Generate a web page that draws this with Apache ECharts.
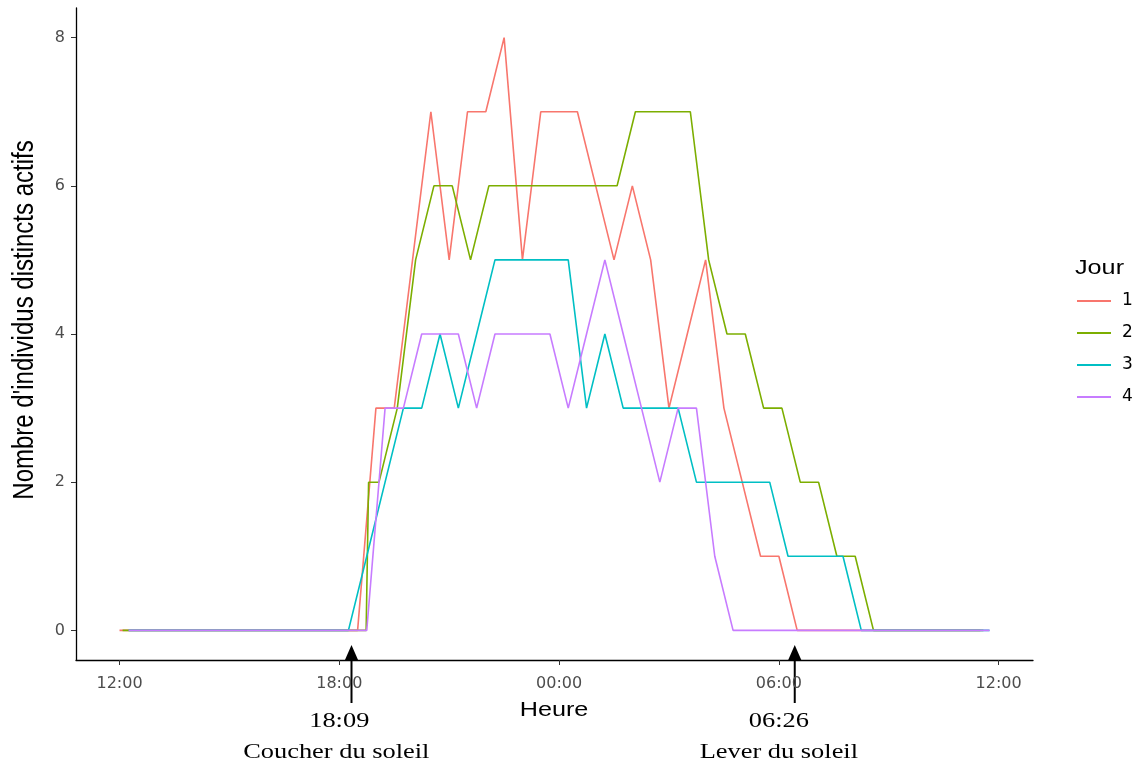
<!DOCTYPE html>
<html><head><meta charset="utf-8">
<script src="https://cdn.jsdelivr.net/npm/echarts@6/dist/echarts.min.js"></script>
<style>html,body{margin:0;padding:0;background:#fff}#c{width:1142px;height:771px}</style>
</head><body><div id="c"></div>
<script>
// ---- data ----
const xTickLabels = ['12:00','18:00','00:00','06:00','12:00'];
const xTickMinutes = [0, 360, 720, 1080, 1440];
const yTickValues = [0, 2, 4, 6, 8];
const seriesNames = ['1','2','3','4'];
const seriesColors = ['#F8766D','#7CAE00','#00BFC4','#C77CFF'];

const day1Times = ['12:00','12:30','13:00','13:30','14:00','14:30','15:00','15:30','16:00','16:30','17:00','17:30','18:00','18:30','19:00','19:30','20:00','20:30','21:00','21:30','22:00','22:30','23:00','23:30','00:00','00:30','01:00','01:30','02:00','02:30','03:00','03:30','04:00','04:30','05:00','05:30','06:00','06:30','07:00','07:30','08:00','08:30','09:00','09:30','10:00','10:30','11:00','11:30'];
const day1Values = [0,0,0,0,0,0,0,0,0,0,0,0,0,0, 3,3,5,7,5,7,7,8,5,7,7,7,6,5,6,5,3,4,5,3,2,1,1,0, 0,0,0,0,0,0,0,0,0,0];

const day2Times = ['12:05','12:35','13:05','13:35','14:05','14:35','15:05','15:35','16:05','16:35','17:05','17:35','18:05','18:35','18:44','18:48','19:05','19:35','20:05','20:35','21:05','21:35','22:05','22:35','23:05','23:35','00:05','00:35','01:05','01:35','02:05','02:35','03:05','03:35','04:05','04:35','05:05','05:35','06:05','06:35','07:05','07:35','08:05','08:35','09:05','09:35','10:05','10:35','11:05','11:35'];
const day2Values = [0,0,0,0,0,0,0,0,0,0,0,0,0,0, 0,2, 2,3,5,6,6,5,6,6,6,6,6,6,6,6,7,7,7,7,5,4,4,3,3,2,2,1,1,0, 0,0,0,0,0,0];

const day3Times = ['12:15','12:45','13:15','13:45','14:15','14:45','15:15','15:45','16:15','16:45','17:15','17:45','18:15','18:45','19:15','19:45','20:15','20:45','21:15','21:45','22:15','22:45','23:15','23:45','00:15','00:45','01:15','01:45','02:15','02:45','03:15','03:45','04:15','04:45','05:15','05:45','06:15','06:45','07:15','07:45','08:15','08:45','09:15','09:45','10:15','10:45','11:15','11:45'];
const day3Values = [0,0,0,0,0,0,0,0,0,0,0,0,0, 1,2,3,3,4,3,4,5,5,5,5,5,3,4,3,3,3,3,2,2,2,2,2,1,1,1,1, 0,0,0,0,0,0,0,0];

const day4Times = day3Times;
const day4Values = [0,0,0,0,0,0,0,0,0,0,0,0,0,0, 3,3,4,4,4,3,4,4,4,4,3,4,5,4,3,2,3,3,1, 0,0,0,0,0,0,0,0,0,0,0,0,0,0,0];

const annotTimeLabels = ['18:09','06:26'];
const annotTexts = ['Coucher du soleil','Lever du soleil'];
const annotTextAt = ['18:00','06:00'];
const annotArrowAt = ['18:20','06:26'];

// ---- helpers ----
function toMin(s){ const p = s.split(':').map(Number); let t = p[0]*60 + p[1] - 720; if (t < 0) t += 1440; return t; }
const allTimes = [day1Times, day2Times, day3Times, day4Times];
const allValues = [day1Values, day2Values, day3Values, day4Values];

const chart = echarts.init(document.getElementById('c'), null, {renderer:'canvas'});
const series = allValues.map((vals, i) => ({
  name: seriesNames[i], type: 'line', showSymbol: false, symbol: 'none', silent: true,
  data: vals.map((v, j) => [toMin(allTimes[i][j]), v]),
  lineStyle: {width: 1.6, color: seriesColors[i]}, itemStyle: {color: seriesColors[i]},
  z: 2 + i
}));

const SX = 1.2;
chart.setOption({
  animation: false,
  backgroundColor: '#fff',
  grid: {left: 76, right: 109, top: 8, bottom: 111},
  xAxis: {
    type: 'value', min: -71.25, max: 1496.25,
    axisLine: {onZero: false, lineStyle: {color: '#000', width: 1.3}},
    axisTick: {customValues: xTickMinutes, length: 5, lineStyle: {color: '#333', width: 1}},
    axisLabel: {customValues: xTickMinutes, color: '#4D4D4D', fontSize: 16, fontFamily: 'DejaVu Sans', margin: 16,
      formatter: v => xTickLabels[xTickMinutes.indexOf(v)]},
    splitLine: {show: false}
  },
  yAxis: {
    type: 'value', min: -0.4, max: 8.4,
    axisLine: {show: true, onZero: false, lineStyle: {color: '#000', width: 1.3}},
    axisTick: {show: true, customValues: yTickValues, length: 5, lineStyle: {color: '#333', width: 1}},
    axisLabel: {customValues: yTickValues, color: '#4D4D4D', fontSize: 16, fontFamily: 'DejaVu Sans', margin: 11},
    splitLine: {show: false}
  },
  legend: {
    orient: 'vertical', left: 1077, top: 292, padding: 0, itemWidth: 34, itemHeight: 2, itemGap: 14,
    icon: 'rect', data: seriesNames,
    textStyle: {fontSize: 17, lineHeight: 18, fontFamily: 'DejaVu Sans', color: '#000', padding: [0,0,0,6]}
  },
  series: series
});

const g = [];
g.push({type:'text', x: 25, y: 320, rotation: Math.PI/2, scaleY: SX, style:{text:"Nombre d'individus distincts actifs", font:'24px "Liberation Sans"', fill:'#000', textAlign:'center', textVerticalAlign:'middle'}});
g.push({type:'text', x: 554, y: 710, scaleX: SX, style:{text:'Heure', font:'21px "Liberation Sans"', fill:'#000', textAlign:'center', textVerticalAlign:'middle'}});
g.push({type:'text', x: 1075, y: 268, scaleX: SX, style:{text:'Jour', font:'21px "Liberation Sans"', fill:'#000', textAlign:'left', textVerticalAlign:'middle'}});
for (let i = 0; i < 2; i++) {
  const tx = chart.convertToPixel({gridIndex:0}, [toMin(annotTextAt[i]), 0])[0];
  const ax = chart.convertToPixel({gridIndex:0}, [toMin(annotArrowAt[i]), 0])[0];
  g.push({type:'line', shape:{x1: ax, y1: 703, x2: ax, y2: 658}, style:{stroke:'#000', lineWidth: 2}});
  g.push({type:'polygon', shape:{points:[[ax, 645],[ax-7, 661],[ax+7, 661]]}, style:{fill:'#000'}});
  g.push({type:'text', x: tx, y: 721, scaleX: SX, style:{text: annotTimeLabels[i], font:'22px "Liberation Serif"', fill:'#000', textAlign:'center', textVerticalAlign:'middle'}});
  g.push({type:'text', x: tx - (i===0?3:0), y: 752, scaleX: SX, style:{text: annotTexts[i], font:'22px "Liberation Serif"', fill:'#000', textAlign:'center', textVerticalAlign:'middle'}});
}
chart.setOption({graphic: g});
</script></body></html>
